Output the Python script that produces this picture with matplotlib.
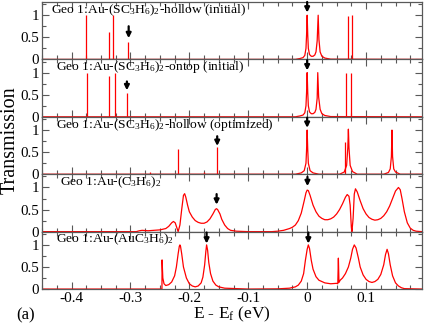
import matplotlib
matplotlib.use("Agg")
import matplotlib.pyplot as plt
from matplotlib.ticker import MultipleLocator

plt.rcParams['font.family'] = ['Liberation Serif', 'DejaVu Serif']
plt.rcParams['mathtext.fontset'] = 'custom'
plt.rcParams['mathtext.rm'] = 'Liberation Serif'
plt.rcParams['mathtext.it'] = 'Liberation Serif:italic'

# ---------------- data ----------------
labels = [
    r"Geo 1:Au-(SC$_3$H$_6$)$_2$-hollow (initial)",
    r"Geo 1:Au-(SC$_3$H$_6$)$_2$-ontop (initial)",
    r"Geo 1:Au-(SC$_3$H$_6$)$_2$-hollow (optimized)",
    r"Geo 1:Au-(C$_3$H$_6$)$_2$",
    r"Geo 1:Au-(AuC$_3$H$_6$)$_2$",
]

# narrow resonances (energy, height) drawn as spikes
spike_E = [
    [-0.375, -0.337, -0.330, -0.3035, 0.069, 0.0766],
    [-0.374, -0.337, -0.327, -0.306, 0.066, 0.074],
    [-0.267, -0.219, -0.175, -0.1527, 0.065],
    [],
    [],
]
spike_T = [
    [1.0, 0.61, 1.0, 0.39, 0.98, 1.0],
    [1.0, 0.93, 1.0, 0.53, 1.0, 1.0],
    [0.05, 0.57, 0.05, 0.62, 0.73],
    [],
    [],
]

# sampled curves (energy, transmission)
curve_E = [
    [-0.45, -0.02, -0.012, -0.007, -0.004, -0.002, -0.001, 0.0, 0.001, 0.002, 0.004,
     0.007, 0.010, 0.013, 0.015, 0.017, 0.0187, 0.020, 0.022, 0.025, 0.030, 0.040, 0.195],
    [-0.45, -0.02, -0.012, -0.007, -0.004, -0.002, -0.001, 0.0, 0.001, 0.002, 0.004,
     0.007, 0.010, 0.013, 0.015, 0.017, 0.018, 0.0195, 0.022, 0.025, 0.030, 0.040, 0.195],
    [-0.45, -0.02, -0.01, -0.005, -0.002, -0.001, 0.0, 0.001, 0.002, 0.005, 0.01, 0.02,
     0.055, 0.063, 0.067, 0.069, 0.070, 0.071, 0.073, 0.077, 0.085, 0.13, 0.138, 0.141,
     0.143, 0.144, 0.145, 0.147, 0.150, 0.158, 0.195],
    [-0.45, -0.29, -0.285, -0.28, -0.27, -0.26, -0.25, -0.24, -0.235, -0.23, -0.227,
     -0.224, -0.221, -0.219, -0.216, -0.213, -0.210, -0.208, -0.206, -0.203, -0.200,
     -0.195, -0.190, -0.185, -0.180, -0.175, -0.170, -0.165, -0.160, -0.156, -0.154,
     -0.152, -0.148, -0.145, -0.140, -0.135, -0.130, -0.120, -0.100, -0.060, -0.050,
     -0.040, -0.030, -0.025, -0.020, -0.015, -0.010, -0.005, -0.002, 0.0, 0.002, 0.005,
     0.010, 0.015, 0.020, 0.025, 0.030, 0.035, 0.040, 0.045, 0.050, 0.055, 0.060, 0.065,
     0.068, 0.071, 0.073, 0.075, 0.076, 0.078, 0.080, 0.082, 0.085, 0.090, 0.095, 0.100,
     0.105, 0.110, 0.115, 0.120, 0.125, 0.130, 0.135, 0.140, 0.145, 0.150, 0.155, 0.158,
     0.161, 0.165, 0.170, 0.175, 0.180, 0.185, 0.195],
    [-0.45, -0.2465, -0.2463, -0.245, -0.243, -0.240, -0.235, -0.230, -0.225, -0.222,
     -0.219, -0.217, -0.216, -0.215, -0.213, -0.210, -0.205, -0.200, -0.195, -0.190,
     -0.185, -0.180, -0.177, -0.174, -0.172, -0.1707, -0.169, -0.167, -0.164, -0.160,
     -0.155, -0.150, -0.140, -0.120, -0.100, -0.050, -0.030, -0.020, -0.015, -0.010,
     -0.006, -0.003, 0.0, 0.002, 0.004, 0.007, 0.010, 0.015, 0.020, 0.030, 0.040, 0.050,
     0.052, 0.053, 0.054, 0.056, 0.060, 0.065, 0.070, 0.074, 0.077, 0.080, 0.083, 0.087,
     0.090, 0.095, 0.100, 0.105, 0.110, 0.115, 0.120, 0.125, 0.130, 0.133, 0.1357, 0.138,
     0.141, 0.145, 0.150, 0.155, 0.160, 0.165, 0.195],
]
curve_T = [
    [0.0, 0.0, 0.02, 0.04, 0.09, 0.25, 0.55, 1.0, 0.55, 0.25, 0.11,
     0.07, 0.07, 0.10, 0.17, 0.42, 1.0, 0.45, 0.17, 0.07, 0.03, 0.005, 0.0],
    [0.0, 0.0, 0.02, 0.04, 0.09, 0.25, 0.55, 1.0, 0.55, 0.25, 0.11,
     0.07, 0.07, 0.10, 0.17, 0.42, 1.0, 0.45, 0.17, 0.07, 0.03, 0.005, 0.0],
    [0.0, 0.0, 0.03, 0.08, 0.25, 0.55, 1.0, 0.55, 0.25, 0.08, 0.03, 0.0,
     0.0, 0.05, 0.2, 0.6, 1.02, 0.6, 0.2, 0.06, 0.0, 0.0, 0.04, 0.12,
     0.4, 1.0, 0.4, 0.12, 0.05, 0.0, 0.0],
    [0.0, 0.0, 0.02, 0.03, 0.02, 0.03, 0.04, 0.07, 0.12, 0.20, 0.23,
     0.20, 0.08, 0.0, 0.15, 0.50, 0.82, 0.86, 0.78, 0.60, 0.45,
     0.33, 0.25, 0.21, 0.19, 0.19, 0.22, 0.29, 0.40, 0.50, 0.52,
     0.50, 0.40, 0.28, 0.15, 0.07, 0.03, 0.01, 0.0, 0.0, 0.01,
     0.03, 0.07, 0.10, 0.15, 0.25, 0.42, 0.70, 0.88, 0.94, 0.93, 0.82,
     0.60, 0.45, 0.35, 0.30, 0.27, 0.27, 0.29, 0.33, 0.40, 0.50, 0.63, 0.78,
     0.84, 0.80, 0.60, 0.10, 0.0, 0.30, 0.85, 0.97, 0.90, 0.70, 0.52, 0.40,
     0.32, 0.28, 0.26, 0.27, 0.30, 0.36, 0.45, 0.58, 0.75, 0.92, 1.0, 0.95,
     0.75, 0.45, 0.20, 0.08, 0.03, 0.01, 0.0],
    [0.0, 0.0, 0.66, 0.25, 0.12, 0.08, 0.10, 0.16, 0.30, 0.50,
     0.80, 0.97, 1.0, 0.97, 0.80, 0.50, 0.25, 0.12, 0.07, 0.05,
     0.07, 0.14, 0.27, 0.55, 0.85, 1.0, 0.88, 0.60, 0.35, 0.18,
     0.09, 0.05, 0.02, 0.01, 0.0, 0.005, 0.02, 0.05, 0.09, 0.18,
     0.35, 0.65, 0.90, 1.0, 0.92, 0.65, 0.45, 0.28, 0.20, 0.14, 0.12, 0.13,
     0.12, 0.70, 0.15, 0.20, 0.25, 0.35, 0.50, 0.70, 0.90, 1.0, 0.93, 0.70,
     0.50, 0.32, 0.22, 0.17, 0.15, 0.17, 0.22, 0.33, 0.55, 0.78, 0.90, 0.80,
     0.55, 0.30, 0.14, 0.07, 0.03, 0.01, 0.0],
]

# arrows (energy, tail T, tip T)
arrow_E = [[-0.303, 0.0], [-0.306, 0.0], [-0.1527, 0.0], [-0.1537, 0.0005], [-0.1707, 0.002]]
arrow_tail = [[0.75, 1.30], [0.80, 1.28], [0.86, 1.28], [0.85, 1.24], [1.28, 1.28]]
arrow_tip = [[0.48, 1.06], [0.60, 1.05], [0.64, 1.05], [0.61, 1.03], [1.03, 1.03]]

label_x = [-0.435, -0.427, -0.427, -0.419, -0.427]

xticks = [-0.4, -0.3, -0.2, -0.1, 0.0, 0.1]
xticklabels = ["-0.4", "-0.3", "-0.2", "-0.1", "0", "0.1"]
yticks = [0, 0.5, 1]
yticklabels = ["0", "0.5", "1"]

# ---------------- figure ----------------
fig, axes = plt.subplots(5, 1, figsize=(4.25, 3.27), dpi=100, sharex=True)
fig.subplots_adjust(left=0.099, right=0.993, top=0.994, bottom=0.116, hspace=0)

spine_col = '0.35'
for i, ax in enumerate(axes):
    ax.plot(curve_E[i], curve_T[i], color='red', lw=0.9)
    if spike_E[i]:
        ax.vlines(spike_E[i], 0, spike_T[i], color='red', lw=0.9)
    for e, t0, t1 in zip(arrow_E[i], arrow_tail[i], arrow_tip[i]):
        ax.annotate('', xy=(e, t1), xytext=(e, t0),
                    arrowprops=dict(arrowstyle='-|>', color='k', lw=1.6,
                                    mutation_scale=7, shrinkA=0, shrinkB=0))
    ax.text(label_x[i], 1.12, labels[i], fontsize=9.7, va='center', ha='left')
    ax.set_xlim(-0.45, 0.195)
    ax.set_ylim(0, 1.3)
    ax.set_yticks(yticks)
    ax.set_yticklabels(yticklabels, fontsize=10.8)
    ax.yaxis.set_minor_locator(MultipleLocator(0.25))
    ax.xaxis.set_minor_locator(MultipleLocator(0.025))
    ax.tick_params(which='both', direction='in', top=True, right=True, colors=spine_col,
                   labelcolor='black')
    ax.tick_params(which='major', length=5, width=0.8, pad=2)
    ax.tick_params(which='minor', length=3, width=0.8)
    for s in ax.spines.values():
        s.set_color(spine_col)
        s.set_linewidth(0.9)

axes[-1].set_xticks(xticks)
axes[-1].set_xticklabels(xticklabels, fontsize=11)
axes[-1].set_xlabel(r"E - E$_{\rm f}$ (eV)", fontsize=12.5, labelpad=0)
fig.text(0.002, 0.57, "Transmission", rotation=90, fontsize=14.5, va='center', ha='left')
fig.text(0.038, 0.035, "(a)", fontsize=12, va='center', ha='left')

fig.savefig("out.png", dpi=100)
